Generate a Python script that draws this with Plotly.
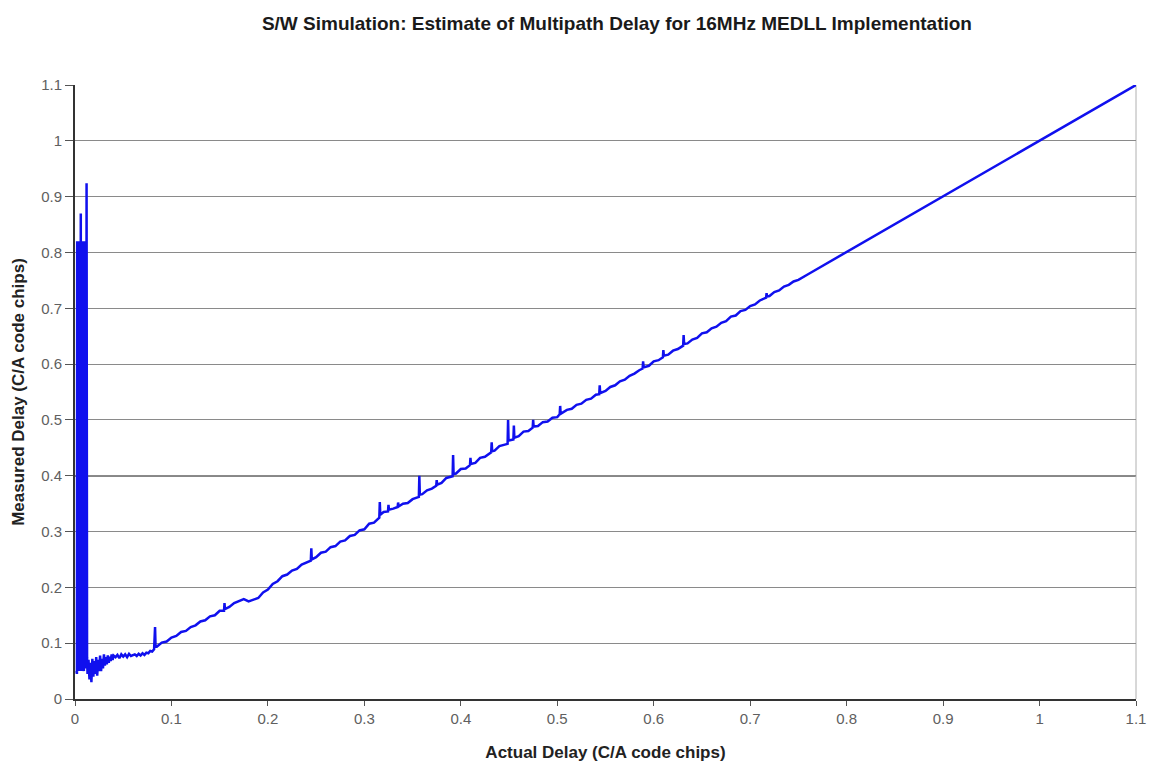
import plotly.graph_objects as go

# ---- data ----
# Burst of oscillation right at zero delay
x_near_zero = [0.0015, 0.00175, 0.002, 0.00225, 0.0025, 0.00275, 0.003, 0.00325, 0.0035, 0.00375,
               0.004, 0.00425, 0.0045, 0.00475, 0.005, 0.00525, 0.0055, 0.00575, 0.006, 0.00625,
               0.0065, 0.00675, 0.007, 0.00725, 0.0075, 0.00775, 0.008, 0.00825, 0.0085, 0.00875,
               0.009, 0.00925, 0.0095, 0.00975, 0.01, 0.01025, 0.0105, 0.01075, 0.011, 0.01125,
               0.0115, 0.01175, 0.012, 0.01225, 0.0125]
y_near_zero = [0.05, 0.81, 0.045, 0.82, 0.06, 0.80, 0.05, 0.82, 0.07, 0.81,
               0.055, 0.82, 0.06, 0.81, 0.05, 0.80, 0.065, 0.82, 0.87, 0.06,
               0.82, 0.05, 0.81, 0.065, 0.82, 0.055, 0.80, 0.07, 0.82, 0.06,
               0.81, 0.05, 0.82, 0.065, 0.80, 0.07, 0.82, 0.06, 0.81, 0.055,
               0.82, 0.06, 0.924, 0.07, 0.075]

# Noisy settling region
x_settle = [0.013, 0.014, 0.015, 0.016, 0.017, 0.018, 0.019, 0.020, 0.021, 0.022,
            0.023, 0.024, 0.025, 0.026, 0.027, 0.028, 0.029, 0.030, 0.031, 0.032,
            0.033, 0.034, 0.035, 0.036, 0.037, 0.038, 0.039, 0.040]
y_settle = [0.045, 0.07, 0.035, 0.065, 0.03, 0.072, 0.04, 0.068, 0.045, 0.075,
            0.042, 0.07, 0.05, 0.078, 0.05, 0.072, 0.055, 0.08, 0.06, 0.075,
            0.062, 0.078, 0.065, 0.076, 0.068, 0.08, 0.07, 0.078]

# Flat low region
x_low = [0.042, 0.044, 0.046, 0.048, 0.050, 0.052, 0.054, 0.056, 0.058, 0.060,
         0.062, 0.064, 0.066, 0.068, 0.070, 0.072, 0.074, 0.076, 0.078, 0.080, 0.082]
y_low = [0.075, 0.079, 0.073, 0.080, 0.076, 0.080, 0.075, 0.081, 0.077, 0.078,
         0.080, 0.077, 0.081, 0.078, 0.082, 0.079, 0.083, 0.082, 0.086, 0.085, 0.089]

# Ramp 0.083 - 0.3
x_ramp_a = [0.083, 0.0835, 0.085, 0.09, 0.095, 0.1, 0.105, 0.11, 0.115, 0.12,
            0.125, 0.13, 0.135, 0.14, 0.145, 0.15, 0.1545, 0.155, 0.1555, 0.16,
            0.165, 0.17, 0.175, 0.18, 0.185, 0.19, 0.195, 0.2, 0.205, 0.21,
            0.215, 0.22, 0.225, 0.23, 0.235, 0.24, 0.2445, 0.245, 0.2455, 0.25,
            0.255, 0.26, 0.265, 0.27, 0.275, 0.28, 0.285, 0.29, 0.295, 0.3]
y_ramp_a = [0.129, 0.095, 0.094, 0.101, 0.103, 0.110, 0.113, 0.120, 0.122, 0.129,
            0.132, 0.139, 0.141, 0.148, 0.150, 0.158, 0.158, 0.172, 0.161, 0.165,
            0.172, 0.175, 0.179, 0.175, 0.178, 0.181, 0.191, 0.196, 0.206, 0.211,
            0.220, 0.223, 0.230, 0.233, 0.241, 0.244, 0.248, 0.27, 0.25, 0.254,
            0.262, 0.264, 0.272, 0.274, 0.282, 0.284, 0.292, 0.294, 0.302, 0.304]

# Ramp 0.3 - 0.5 with the dense spikes
x_ramp_b = [0.305, 0.31, 0.3155, 0.316, 0.3165, 0.32, 0.3245, 0.325, 0.3255, 0.33,
            0.3345, 0.335, 0.3355, 0.34, 0.345, 0.35, 0.3565, 0.357, 0.3575, 0.36,
            0.365, 0.37, 0.3745, 0.375, 0.3755, 0.38, 0.385, 0.3915, 0.392, 0.3925,
            0.395, 0.4, 0.405, 0.4095, 0.41, 0.4105, 0.415, 0.42, 0.425, 0.4315,
            0.432, 0.4325, 0.435, 0.44, 0.4485, 0.449, 0.4495, 0.4545, 0.455, 0.4555,
            0.46, 0.465, 0.47, 0.4745, 0.475, 0.4755, 0.48, 0.485, 0.49, 0.495, 0.5]
y_ramp_b = [0.314, 0.316, 0.325, 0.353, 0.33, 0.335, 0.336, 0.348, 0.339, 0.341,
            0.344, 0.352, 0.345, 0.350, 0.351, 0.358, 0.362, 0.40, 0.366, 0.367,
            0.374, 0.377, 0.382, 0.392, 0.384, 0.387, 0.396, 0.399, 0.437, 0.403,
            0.404, 0.412, 0.413, 0.419, 0.432, 0.421, 0.423, 0.432, 0.434, 0.442,
            0.46, 0.444, 0.445, 0.453, 0.457, 0.50, 0.463, 0.465, 0.49, 0.468,
            0.471, 0.479, 0.480, 0.486, 0.50, 0.488, 0.489, 0.496, 0.497, 0.504, 0.505]

# Ramp 0.5 - 0.75
x_ramp_c = [0.5025, 0.503, 0.5035, 0.51, 0.515, 0.52, 0.525, 0.53, 0.535, 0.54,
            0.5435, 0.544, 0.5445, 0.55, 0.555, 0.56, 0.565, 0.57, 0.575, 0.58,
            0.585, 0.5885, 0.589, 0.5895, 0.595, 0.6, 0.605, 0.6095, 0.61, 0.6105,
            0.615, 0.62, 0.625, 0.6305, 0.631, 0.6315, 0.635, 0.64, 0.645, 0.65,
            0.655, 0.66, 0.665, 0.67, 0.675, 0.68, 0.685, 0.69, 0.695, 0.7,
            0.705, 0.71, 0.7165, 0.717, 0.7175, 0.72, 0.725, 0.73, 0.735, 0.74,
            0.745, 0.75]
y_ramp_c = [0.51, 0.525, 0.511, 0.518, 0.520, 0.527, 0.529, 0.536, 0.538, 0.545,
            0.546, 0.562, 0.548, 0.552, 0.559, 0.562, 0.569, 0.572, 0.579, 0.583,
            0.589, 0.592, 0.605, 0.594, 0.597, 0.605, 0.607, 0.612, 0.625, 0.615,
            0.617, 0.624, 0.627, 0.633, 0.652, 0.636, 0.637, 0.644, 0.647, 0.655,
            0.657, 0.664, 0.667, 0.674, 0.677, 0.685, 0.687, 0.695, 0.697, 0.704,
            0.707, 0.714, 0.719, 0.727, 0.721, 0.722, 0.729, 0.732, 0.739, 0.742,
            0.748, 0.751]

# Upper linear region
x_high = [0.76, 0.77, 0.78, 0.79, 0.8, 0.81, 0.82, 0.83, 0.84, 0.85,
          0.86, 0.87, 0.88, 0.89, 0.9, 0.91, 0.92, 0.93, 0.94, 0.95,
          0.96, 0.97, 0.98, 0.99, 1.0, 1.01, 1.02, 1.03, 1.04, 1.05,
          1.06, 1.07, 1.08, 1.09, 1.1]
y_high = [0.761, 0.771, 0.781, 0.79, 0.801, 0.81, 0.821, 0.83, 0.841, 0.851,
          0.86, 0.871, 0.88, 0.891, 0.901, 0.91, 0.921, 0.93, 0.941, 0.95,
          0.961, 0.97, 0.981, 0.99, 1.001, 1.01, 1.021, 1.03, 1.041, 1.05,
          1.061, 1.07, 1.081, 1.09, 1.1]

tick_vals = [0, 0.1, 0.2, 0.3, 0.4, 0.5, 0.6, 0.7, 0.8, 0.9, 1, 1.1]
tick_text = ["0", "0.1", "0.2", "0.3", "0.4", "0.5", "0.6", "0.7", "0.8", "0.9", "1", "1.1"]

x_all = x_near_zero + x_settle + x_low + x_ramp_a + x_ramp_b + x_ramp_c + x_high
y_all = y_near_zero + y_settle + y_low + y_ramp_a + y_ramp_b + y_ramp_c + y_high
assert len(x_all) == len(y_all)

FONT = "Liberation Sans, Arial, sans-serif"
GRID = "#8a8a8a"

fig = go.Figure()
fig.add_trace(go.Scatter(x=x_all, y=y_all, mode="lines",
                         line=dict(color="#1010ee", width=2.5),
                         hoverinfo="x+y", showlegend=False))

fig.update_layout(
    width=1151, height=769,
    margin=dict(l=75, r=15, t=85, b=70, autoexpand=False),
    paper_bgcolor="white", plot_bgcolor="white",
    title=dict(text="<b>S/W Simulation: Estimate of Multipath Delay for 16MHz MEDLL Implementation</b>",
               x=0.536, xanchor="center", y=0.97, yanchor="middle",
               font=dict(family=FONT, size=19, color="#1a1a1a")),
    xaxis=dict(range=[0, 1.1], tickvals=tick_vals, ticktext=tick_text,
               showgrid=False, zeroline=False, automargin=False,
               showline=True, linecolor="#333333", linewidth=2,
               ticks="outside", ticklen=5, tickcolor="#555555",
               tickfont=dict(family=FONT, size=15, color="#606060"),
               title=dict(text="<b>Actual Delay (C/A code chips)</b>",
                          font=dict(family=FONT, size=17, color="#222222"), standoff=20)),
    yaxis=dict(range=[0, 1.1], tickvals=tick_vals, ticktext=tick_text,
               showgrid=True, gridcolor=GRID, gridwidth=1, zeroline=False, automargin=False,
               showline=True, linecolor="#333333", linewidth=2,
               ticks="outside", ticklen=8, tickcolor="#555555",
               tickfont=dict(family=FONT, size=15, color="#606060"),
               title=dict(text="<b>Measured Delay (C/A code chips)</b>",
                          font=dict(family=FONT, size=17, color="#222222"), standoff=12)),
)

# darker gridline at 0.4 and the right-hand frame line
fig.add_shape(type="line", xref="paper", x0=0, x1=1, yref="y", y0=0.4, y1=0.4,
              line=dict(color="#111111", width=1.5), layer="below")
fig.add_shape(type="line", xref="paper", x0=1, x1=1, yref="paper", y0=0, y1=1,
              line=dict(color="#b0b0b0", width=1), layer="below")

fig.write_html("out.html")
